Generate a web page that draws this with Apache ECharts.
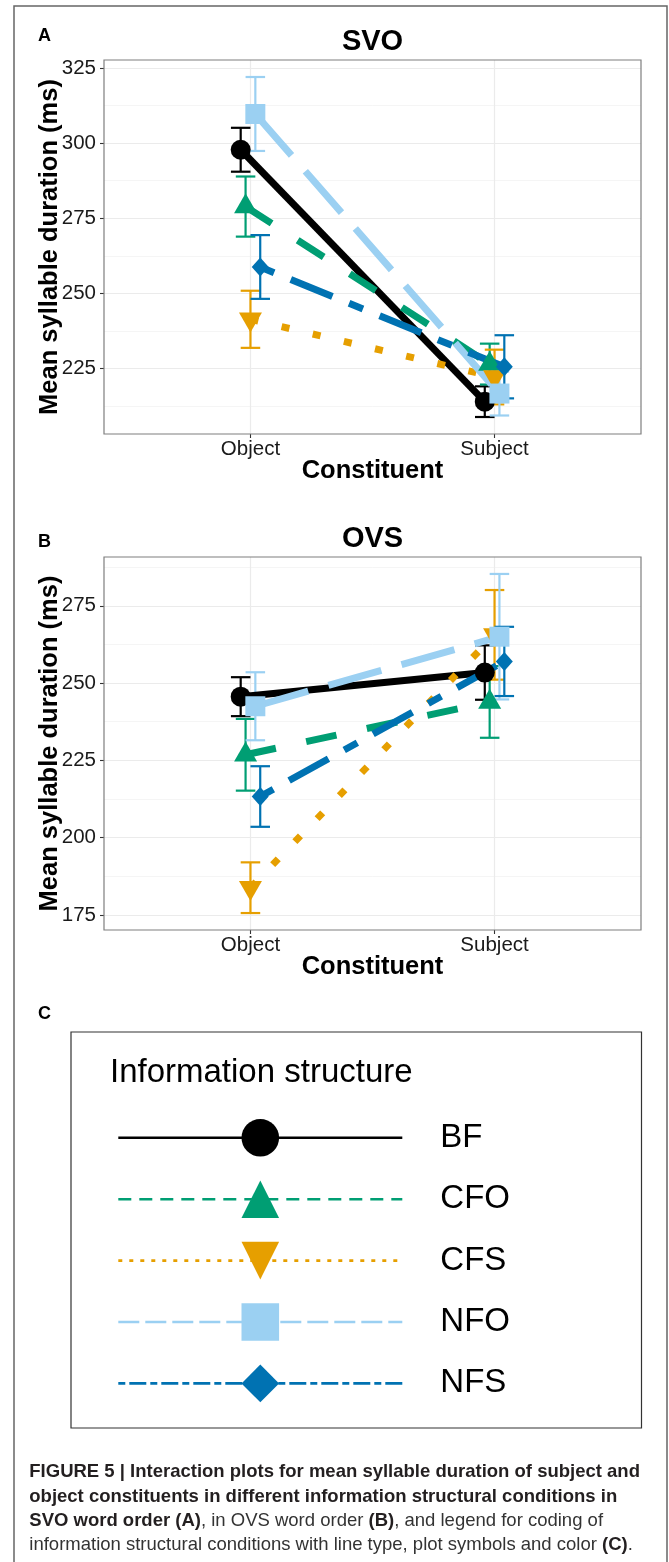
<!DOCTYPE html>
<html><head><meta charset="utf-8">
<script src="https://cdn.jsdelivr.net/npm/echarts@6/dist/echarts.min.js"></script>
<style>html,body{margin:0;padding:0;background:#fff}#c{width:669px;height:1562px}</style>
</head><body><div id="c"></div>
<script>
// ---------- data ----------
const constituents = ['Object', 'Subject'];
const conditions = ['BF', 'CFO', 'CFS', 'NFO', 'NFS'];
// SVO word order (panel A)
const svoMeanObject  = [297.8, 278.9, 241.4, 309.7, 258.8];
const svoMeanSubject = [214.0, 226.5, 222.2, 216.7, 225.6];
const svoErrObject   = [7.3, 10.0, 9.5, 12.3, 10.6];
const svoErrSubject  = [5.1, 6.8, 9.1, 7.3, 10.5];
// OVS word order (panel B)
const ovsMeanObject  = [245.6, 226.8, 183.8, 242.5, 213.3];
const ovsMeanSubject = [253.4, 243.9, 265.6, 265.0, 257.0];
const ovsErrObject   = [6.3, 11.6, 8.2, 11.0, 9.8];
const ovsErrSubject  = [8.8, 11.6, 14.5, 20.3, 11.2];
const svoTicks = [225, 250, 275, 300, 325];
const ovsTicks = [175, 200, 225, 250, 275];
const xTicks = [1, 2];

// ---------- style ----------
const FONT = '"Liberation Sans", Arial, Helvetica, sans-serif';
const colors = ['#000000', '#009E73', '#E69F00', '#9BD0F2', '#0072B2'];
const symbols = ['circle', 'triangle', 'path://M0,0L20,0L10,17.32Z', 'rect', 'diamond'];
const plotSymbolSize = [20, [23, 20], [23, 20], 20, [17, 19]];
const plotSymbolOffset = [[0, 0], [0, -3.3], [0, 3.3], [0, 0], [0, 0]];
const plotDash = ['solid', [31, 31], [8, 24], [55, 21], [15, 18, 45, 18]];
const legendDash = ['solid', [13, 8], [4, 7], [21, 6], [7, 4, 17, 4]];
const dodgeStep = 0.02;
const capWidth = 0.08;

const panels = [
  { name: 'SVO', meanO: svoMeanObject, meanS: svoMeanSubject, errO: svoErrObject, errS: svoErrSubject,
    ticks: svoTicks, grid: { left: 104, top: 60, width: 537, height: 374 } },
  { name: 'OVS', meanO: ovsMeanObject, meanS: ovsMeanSubject, errO: ovsErrObject, errS: ovsErrSubject,
    ticks: ovsTicks, grid: { left: 104, top: 557, width: 537, height: 373 } }
];

function errorBar(params, api) {
  const x = api.value(0), lo = api.value(1), hi = api.value(2);
  const top = api.coord([x, hi]), bot = api.coord([x, lo]);
  const half = api.size([capWidth, 0])[0] / 2;
  const style = { stroke: api.visual('color'), lineWidth: 2.2, fill: null };
  return { type: 'group', children: [
    { type: 'line', shape: { x1: top[0], y1: top[1], x2: bot[0], y2: bot[1] }, style },
    { type: 'line', shape: { x1: top[0] - half, y1: top[1], x2: top[0] + half, y2: top[1] }, style },
    { type: 'line', shape: { x1: bot[0] - half, y1: bot[1], x2: bot[0] + half, y2: bot[1] }, style }
  ]};
}

const grids = [], xAxes = [], yAxes = [];
const lineSeries = [], barSeries = [], pointSeries = [];

panels.forEach((p, k) => {
  grids.push(Object.assign({ show: true, z: 1, backgroundColor: 'transparent',
    borderColor: '#7f7f7f', borderWidth: 1.2 }, p.grid));
  const lows = [], highs = [];
  conditions.forEach((c, i) => {
    lows.push(p.meanO[i] - p.errO[i], p.meanS[i] - p.errS[i]);
    highs.push(p.meanO[i] + p.errO[i], p.meanS[i] + p.errS[i]);
  });
  const lo = Math.min(...lows), hi = Math.max(...highs), pad = (hi - lo) * 0.05;

  xAxes.push({
    type: 'value', gridIndex: k, min: 0.4, max: 2.6, minInterval: 1, maxInterval: 1,
    axisLine: { show: false },
    axisTick: { customValues: xTicks, length: 4, lineStyle: { color: '#333', width: 1.1 } },
    axisLabel: { customValues: xTicks, formatter: v => constituents[Math.round(v) - 1] || '',
      fontSize: 20.5, color: '#1a1a1a', fontFamily: FONT, margin: 5 },
    splitLine: { show: true, lineStyle: { color: '#EBEBEB', width: 1.2 } },
    name: 'Constituent', nameLocation: 'middle', nameGap: 24, nameMoveOverlap: false,
    nameTextStyle: { fontSize: 25.5, fontWeight: 'bold', color: '#000', fontFamily: FONT }
  });
  yAxes.push({
    type: 'value', gridIndex: k, min: lo - pad, max: hi + pad, minInterval: 25, maxInterval: 25,
    axisLine: { show: false },
    axisTick: { customValues: p.ticks, length: 4, lineStyle: { color: '#333', width: 1.1 } },
    axisLabel: { customValues: p.ticks, formatter: v => (p.ticks.indexOf(v) >= 0 ? String(v) : ''),
      fontSize: 20.5, color: '#1a1a1a', fontFamily: FONT, margin: 8 },
    splitLine: { show: true, lineStyle: { color: '#EBEBEB', width: 1.2 } },
    minorTick: { show: false, splitNumber: 2 },
    minorSplitLine: { show: true, lineStyle: { color: '#F3F3F3', width: 0.8 } },
    name: 'Mean syllable duration (ms)', nameLocation: 'middle', nameGap: 41, nameMoveOverlap: false,
    nameTextStyle: { fontSize: 25.5, fontWeight: 'bold', color: '#000', fontFamily: FONT }
  });

  conditions.forEach((c, i) => {
    const off = (i - 2) * dodgeStep;
    const pts = [[xTicks[0] + off, p.meanO[i]], [xTicks[1] + off, p.meanS[i]]];
    lineSeries.push({
      type: 'line', name: c, xAxisIndex: k, yAxisIndex: k, z: 3, data: pts,
      showSymbol: false, symbol: symbols[i], color: colors[i],
      lineStyle: { color: colors[i], width: 7, type: plotDash[i], cap: 'butt' },
      silent: true, animation: false, emphasis: { disabled: true }
    });
    barSeries.push({
      type: 'custom', name: c, xAxisIndex: k, yAxisIndex: k, z: 2,
      data: [[xTicks[0] + off, p.meanO[i] - p.errO[i], p.meanO[i] + p.errO[i]],
             [xTicks[1] + off, p.meanS[i] - p.errS[i], p.meanS[i] + p.errS[i]]],
      encode: { x: 0, y: [1, 2] }, itemStyle: { color: colors[i] },
      renderItem: errorBar, silent: true, animation: false
    });
    pointSeries.push({
      type: 'scatter', name: c, xAxisIndex: k, yAxisIndex: k, z: 4, data: pts,
      symbol: symbols[i], symbolSize: plotSymbolSize[i], symbolOffset: plotSymbolOffset[i],
      itemStyle: { color: colors[i], opacity: 1 }, silent: true, animation: false,
      emphasis: { disabled: true }
    });
  });
});

const txt = (x, y, text, size, opts) => ({
  type: 'text', x, y, silent: true, z: 10,
  style: Object.assign({ text, fontSize: size, fontFamily: FONT, fill: '#000',
    align: 'left', verticalAlign: 'middle' }, opts || {})
});

const captionText =
  '{b|FIGURE 5 | Interaction plots for mean syllable duration of subject and}\n' +
  '{b|object constituents in different information structural conditions in}\n' +
  '{b|SVO word order (A)}{n|, in OVS word order }{b|(B)}{n|, and legend for coding of}\n' +
  '{n|information structural conditions with line type, plot symbols and color }{b|(C)}{n|.}';

const option = {
  backgroundColor: '#ffffff',
  animation: false,
  grid: grids, xAxis: xAxes, yAxis: yAxes,
  series: lineSeries.concat(barSeries, pointSeries),
  legend: {
    data: conditions.map((c, i) => ({
      name: c,
      lineStyle: { width: 2.6, type: legendDash[i], color: colors[i], cap: 'butt' },
      itemStyle: { color: colors[i], borderWidth: 0 }
    })),
    orient: 'vertical', left: 117, top: 1119, itemWidth: 284, itemHeight: 47, itemGap: 23.8,
    padding: 0, selectedMode: false,
    textStyle: { fontSize: 33, color: '#000', fontFamily: FONT, padding: [0, 0, 6, 33] },
    itemStyle: { borderWidth: 0 }
  },
  graphic: [
    { type: 'rect', silent: true, z: 0, shape: { x: 14, y: 6, width: 653, height: 1620 },
      style: { fill: null, stroke: '#666', lineWidth: 1.5 } },
    { type: 'rect', silent: true, z: 0, shape: { x: 71, y: 1032, width: 570.5, height: 396 },
      style: { fill: null, stroke: '#333', lineWidth: 1.2 } },
    txt(38, 36, 'A', 18, { fontWeight: 'bold' }),
    txt(372.5, 42, 'SVO', 29, { fontWeight: 'bold', align: 'center' }),
    txt(38, 541.7, 'B', 18, { fontWeight: 'bold' }),
    txt(372.5, 538.8, 'OVS', 29, { fontWeight: 'bold', align: 'center' }),
    txt(38, 1014.2, 'C', 18, { fontWeight: 'bold' }),
    txt(110, 1073.3, 'Information structure', 33),
    { type: 'text', x: 29.3, y: 1460, silent: true, z: 10,
      style: { text: captionText, verticalAlign: 'top', align: 'left',
        rich: {
          b: { fontSize: 18.5, fontWeight: 'bold', fill: '#231f20', fontFamily: FONT, lineHeight: 24.3 },
          n: { fontSize: 18.5, fill: '#333', fontFamily: FONT, lineHeight: 24.3 }
        } } }
  ]
};

const chart = echarts.init(document.getElementById('c'), null, { renderer: 'canvas' });
chart.setOption(option);
</script>
</body></html>
